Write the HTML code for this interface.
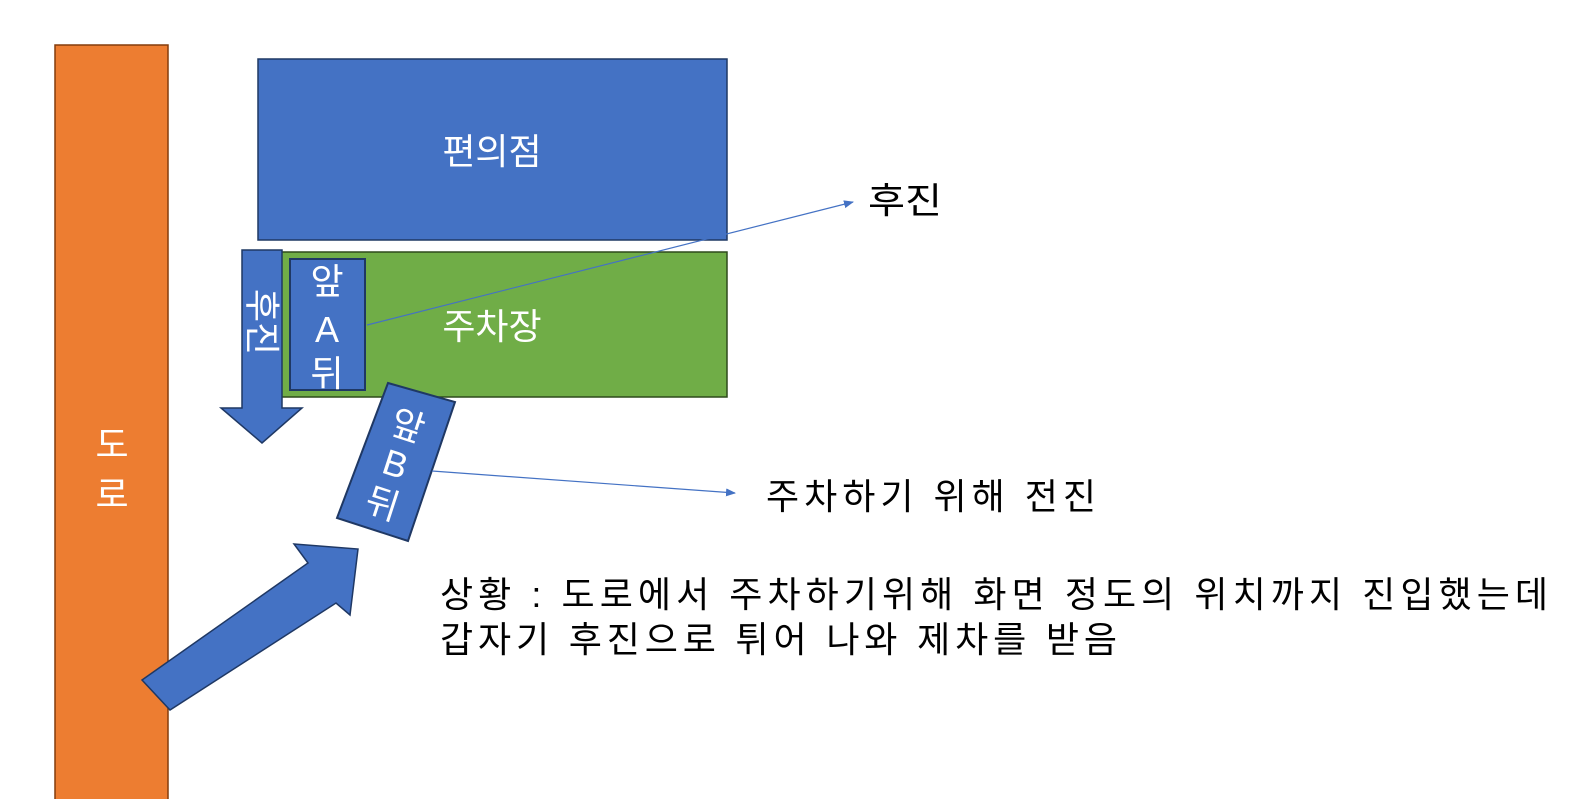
<!DOCTYPE html>
<html><head><meta charset="utf-8"><style>
html,body{margin:0;padding:0;background:#fff;}
svg{display:block;}
text{font-family:"Liberation Sans","Noto Sans CJK KR","NanumGothic",sans-serif;}
</style></head><body>
<svg width="1587" height="799" viewBox="0 0 1587 799" xmlns="http://www.w3.org/2000/svg">
<defs><marker id="ah" markerWidth="10" markerHeight="8" refX="9" refY="4" orient="auto" markerUnits="userSpaceOnUse"><path d="M0,0 L10,4 L0,8 Z" fill="#4472c4"/></marker></defs>
<rect x="55" y="45" width="113" height="760" fill="#ed7d31" stroke="#843c0c" stroke-width="1.5"/>
<text x="112" y="457" fill="#fff" font-size="36" text-anchor="middle">도</text>
<text x="112" y="507" fill="#fff" font-size="36" text-anchor="middle">로</text>
<rect x="258" y="59" width="469" height="181" fill="#4472c4" stroke="#1f3864" stroke-width="1.5"/>
<text x="492" y="164" fill="#fff" font-size="36" text-anchor="middle">편의점</text>
<rect x="281" y="252" width="446" height="145" fill="#70ad47" stroke="#2e4a1c" stroke-width="1.5"/>
<text x="492" y="339" fill="#fff" font-size="36" text-anchor="middle">주차장</text>
<polygon points="242,250 282,250 282,408 302,408 262,443 221,408 242,408" fill="#4472c4" stroke="#1f3864" stroke-width="1.5"/>
<text transform="translate(262,322) rotate(90)" fill="#fff" font-size="36" text-anchor="middle" dominant-baseline="central">후진</text>
<rect x="290" y="259" width="75" height="131" fill="#4472c4" stroke="#1f3864" stroke-width="2"/>
<text x="327" y="294" fill="#fff" font-size="36" text-anchor="middle">앞</text>
<text x="327" y="342" fill="#fff" font-size="36" text-anchor="middle">A</text>
<text x="327" y="386" fill="#fff" font-size="36" text-anchor="middle">뒤</text>
<line x1="367" y1="325" x2="853" y2="202" stroke="#4472c4" stroke-width="1.2" marker-end="url(#ah)"/>
<text x="868" y="213" fill="#000" font-size="36" textLength="74" lengthAdjust="spacingAndGlyphs">후진</text>
<polygon points="388,383 455,402 408,541 337,518" fill="#4472c4" stroke="#1f3864" stroke-width="2"/>
<g transform="translate(396,462) rotate(18)">
<text x="0" y="-38" fill="#fff" font-size="36" text-anchor="middle" dominant-baseline="central">앞</text>
<text x="0" y="2" fill="#fff" font-size="36" text-anchor="middle" dominant-baseline="central">B</text>
<text x="0" y="44" fill="#fff" font-size="36" text-anchor="middle" dominant-baseline="central">뒤</text>
</g>
<line x1="432" y1="471" x2="735" y2="493" stroke="#4472c4" stroke-width="1.2" marker-end="url(#ah)"/>
<text x="766" y="509" fill="#000" font-size="36" textLength="330" lengthAdjust="spacing">주차하기 위해 전진</text>
<polygon points="142,680 308,563 294,544 358,549 350,615 336,603 170,710" fill="#4472c4" stroke="#1f3864" stroke-width="1.5"/>
<text x="440" y="607" fill="#000" font-size="36" textLength="1108" lengthAdjust="spacing">상황 :  도로에서 주차하기위해 화면 정도의 위치까지 진입했는데</text>
<text x="440" y="652" fill="#000" font-size="36" textLength="677" lengthAdjust="spacing">갑자기 후진으로 튀어 나와 제차를 받음</text>
</svg>
</body></html>
